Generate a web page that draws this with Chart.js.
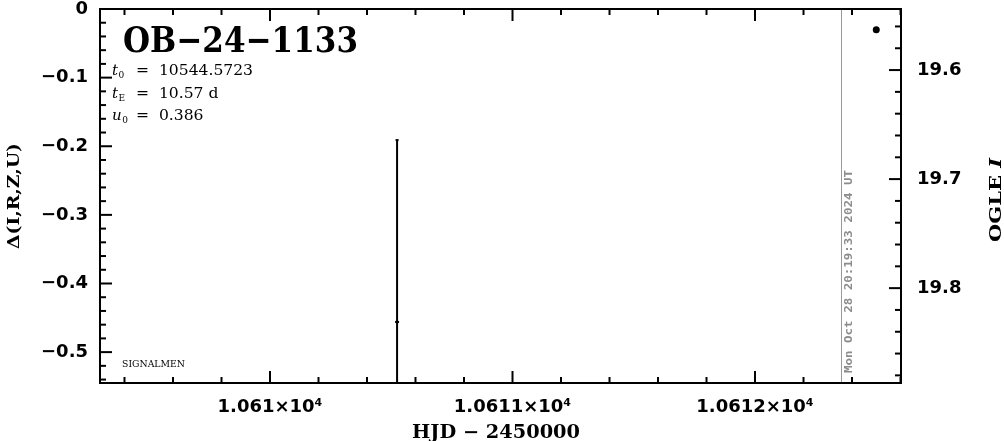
<!DOCTYPE html>
<html>
<head>
<meta charset="utf-8">
<script src="https://cdn.jsdelivr.net/npm/chart.js@4.4.1/dist/chart.umd.min.js"></script>
<style>
  html, body { margin: 0; padding: 0; background: #fff; }
</style>
</head>
<body>
<canvas id="lc" width="1004" height="441"></canvas>
<script>
// event info
const eventName = "OB\u221224\u22121133";
const paramNames = ["t", "t", "u"];
const paramSubs = ["0", "E", "0"];
const paramValues = ["10544.5723", "10.57 d", "0.386"];
const stamp = "Mon Oct 28 20:19:33 2024 UT";
const nowHjd = 10612.355;

// photometry
const obsHjd = [10610.524];
const obsDelta = [-0.456];
const obsErr = [0.265];
const ogleHjd = [10612.5];
const ogleMag = [19.563];

// ticks
const hjdTicks = [10610, 10611, 10612];
const deltaTicks = [0, -0.1, -0.2, -0.3, -0.4, -0.5];
const magTicks = [19.6, 19.7, 19.8];

const tickFont = { family: "DejaVu Sans", size: 18, weight: "bold" };

// draw text squeezed/stretched to a given width, x = left edge, y = baseline
function fitText(ctx, str, x, y, width, font) {
  ctx.font = font;
  const w = ctx.measureText(str).width;
  ctx.save();
  ctx.translate(x, y);
  ctx.scale(width / w, 1);
  ctx.textAlign = "left";
  ctx.textBaseline = "alphabetic";
  ctx.fillText(str, 0, 0);
  ctx.restore();
}

function line(ctx, x1, y1, x2, y2) {
  ctx.beginPath();
  ctx.moveTo(x1, y1);
  ctx.lineTo(x2, y2);
  ctx.stroke();
}

// inward tick marks along one edge
function tickMarks(ctx, scale, step, major, edge, dir, horizontal) {
  const lo = Math.min(scale.min, scale.max), hi = Math.max(scale.min, scale.max);
  const first = Math.ceil(lo / step - 1e-6);
  for (let k = first; k * step <= hi + 1e-9; k++) {
    const v = k * step;
    const r = v / major;
    const isMajor = Math.abs(r - Math.round(r)) < 1e-6;
    const len = isMajor ? 12 : 6;
    const p = scale.getPixelForValue(v);
    if (horizontal) line(ctx, p, edge, p, edge + dir * len);
    else line(ctx, edge, p, edge + dir * len, p);
  }
}

const decor = {
  id: "decor",
  afterDatasetsDraw(chart) {
    const { ctx, chartArea: a, scales } = chart;
    const x = scales.x, y = scales.y, y2 = scales.y2;
    ctx.save();

    // current time marker
    ctx.strokeStyle = "#999";
    ctx.lineWidth = 1;
    const nx = Math.round(x.getPixelForValue(nowHjd)) + 0.5;
    line(ctx, nx, a.top, nx, a.bottom);

    // error bars
    ctx.save();
    ctx.beginPath();
    ctx.rect(a.left, a.top, a.right - a.left, a.bottom - a.top);
    ctx.clip();
    ctx.strokeStyle = "#000";
    ctx.lineWidth = 2;
    obsHjd.forEach((h, i) => {
      const px = x.getPixelForValue(h);
      const t = y.getPixelForValue(obsDelta[i] + obsErr[i]);
      const b = y.getPixelForValue(obsDelta[i] - obsErr[i]);
      line(ctx, px, t, px, b);
      line(ctx, px - 1.5, t, px + 1.5, t);
      line(ctx, px - 2, y.getPixelForValue(obsDelta[i]), px + 2, y.getPixelForValue(obsDelta[i]));
    });
    ctx.restore();

    // frame and ticks
    ctx.strokeStyle = "#000";
    ctx.lineWidth = 2;
    ctx.strokeRect(a.left, a.top, a.right - a.left, a.bottom - a.top);
    tickMarks(ctx, x, 0.2, 1, a.bottom, -1, true);
    tickMarks(ctx, x, 0.2, 1, a.top, 1, true);
    tickMarks(ctx, y, 0.02, 0.1, a.left, 1, false);
    tickMarks(ctx, y2, 0.02, 0.1, a.right, -1, false);

    ctx.fillStyle = "#000";
    // event name
    fitText(ctx, eventName, 123, 52, 235, "bold 36px 'DejaVu Serif'");

    // model parameters
    ctx.font = "14px 'DejaVu Serif'";
    const sv = 117 / ctx.measureText("=  " + paramValues[0]).width;
    paramNames.forEach((n, i) => {
      const base = 75 + i * 22.5;
      ctx.font = "italic 15px 'DejaVu Serif'";
      ctx.textAlign = "left";
      ctx.fillText(n, 112, base);
      const nw = ctx.measureText(n).width;
      ctx.font = "9px 'DejaVu Serif'";
      ctx.fillText(paramSubs[i], 112 + nw + 0.5, base + 3);
      ctx.font = "14px 'DejaVu Serif'";
      const s = "=  " + paramValues[i];
      fitText(ctx, s, 136, base, ctx.measureText(s).width * sv, "14px 'DejaVu Serif'");
    });

    // signature
    fitText(ctx, "SIGNALMEN", 122, 367, 63, "9px 'DejaVu Serif'");

    // x axis title
    fitText(ctx, "HJD \u2212 2450000", 412, 438, 168, "bold 18px 'DejaVu Serif'");

    // left axis title
    ctx.save();
    ctx.translate(19, 196);
    ctx.rotate(-Math.PI / 2);
    fitText(ctx, "\u0394(I,R,Z,U)", -53, 0, 106, "bold 17px 'DejaVu Serif'");
    ctx.restore();

    // right axis title
    ctx.save();
    ctx.translate(1001, 200);
    ctx.rotate(-Math.PI / 2);
    ctx.font = "bold 17px 'DejaVu Serif'";
    const w1 = ctx.measureText("OGLE ").width;
    ctx.font = "bold italic 17px 'DejaVu Serif'";
    const w2 = ctx.measureText("I").width;
    const sr = 84 / (w1 + w2);
    ctx.scale(sr, 1);
    ctx.textAlign = "left";
    ctx.font = "bold 17px 'DejaVu Serif'";
    ctx.fillText("OGLE ", -(w1 + w2) / 2, 0);
    ctx.font = "bold italic 17px 'DejaVu Serif'";
    ctx.fillText("I", -(w1 + w2) / 2 + w1, 0);
    ctx.restore();

    // time stamp
    ctx.save();
    ctx.fillStyle = "#8c8c8c";
    ctx.translate(852, 272);
    ctx.rotate(-Math.PI / 2);
    fitText(ctx, stamp, -101, 0, 203, "bold 11px 'DejaVu Sans Mono'");
    ctx.restore();

    ctx.restore();
  }
};

const ctx = document.getElementById("lc").getContext("2d");
const lightCurve = new Chart(ctx, {
  type: "scatter",
  data: {
    datasets: [
      {
        label: "Signalmen",
        data: obsHjd.map((h, i) => ({ x: h, y: obsDelta[i] })),
        yAxisID: "y",
        pointRadius: 1.5,
        pointBorderWidth: 0,
        backgroundColor: "#000",
        borderColor: "#000",
      },
      {
        label: "OGLE",
        data: ogleHjd.map((h, i) => ({ x: h, y: ogleMag[i] })),
        yAxisID: "y2",
        pointRadius: 3.5,
        pointBorderWidth: 0,
        backgroundColor: "#000",
        borderColor: "#000",
      },
    ],
  },
  options: {
    responsive: false,
    devicePixelRatio: 1,
    animation: false,
    layout: { padding: { top: 9, left: 0, right: 0, bottom: 0 } },
    plugins: {
      legend: { display: false },
      tooltip: { enabled: false },
    },
    scales: {
      x: {
        type: "linear",
        position: "bottom",
        min: 10609.299,
        max: 10612.602,
        grid: { display: false, drawTicks: false },
        border: { display: false },
        ticks: {
          color: "#000",
          font: tickFont,
          padding: 14,
          autoSkip: false,
          maxRotation: 0,
          callback: (v) => parseFloat((v / 1e4).toFixed(5)) + "\u00d710\u2074",
        },
        afterBuildTicks: (s) => { s.ticks = hjdTicks.map((v) => ({ value: v })); },
        afterFit: (s) => { s.height = 58; s.paddingLeft = 0; s.paddingRight = 0; },
      },
      y: {
        type: "linear",
        position: "left",
        min: -0.545,
        max: 0,
        grid: { display: false, drawTicks: false },
        border: { display: false },
        ticks: {
          color: "#000",
          font: tickFont,
          padding: 12,
          callback: (v) => (v === 0 ? "0" : "\u2212" + Math.abs(v).toFixed(1)),
        },
        afterBuildTicks: (s) => { s.ticks = deltaTicks.map((v) => ({ value: v })); },
        afterFit: (s) => { s.width = 100; s.paddingTop = 0; s.paddingBottom = 0; },
      },
      y2: {
        type: "linear",
        position: "right",
        reverse: true,
        min: 19.544,
        max: 19.887,
        grid: { display: false, drawTicks: false },
        border: { display: false },
        ticks: {
          color: "#000",
          font: tickFont,
          padding: 16,
          callback: (v) => v.toFixed(1),
        },
        afterBuildTicks: (s) => { s.ticks = magTicks.map((v) => ({ value: v })); },
        afterFit: (s) => { s.width = 103; s.paddingTop = 0; s.paddingBottom = 0; },
      },
    },
  },
  plugins: [decor],
});
</script>
</body>
</html>
